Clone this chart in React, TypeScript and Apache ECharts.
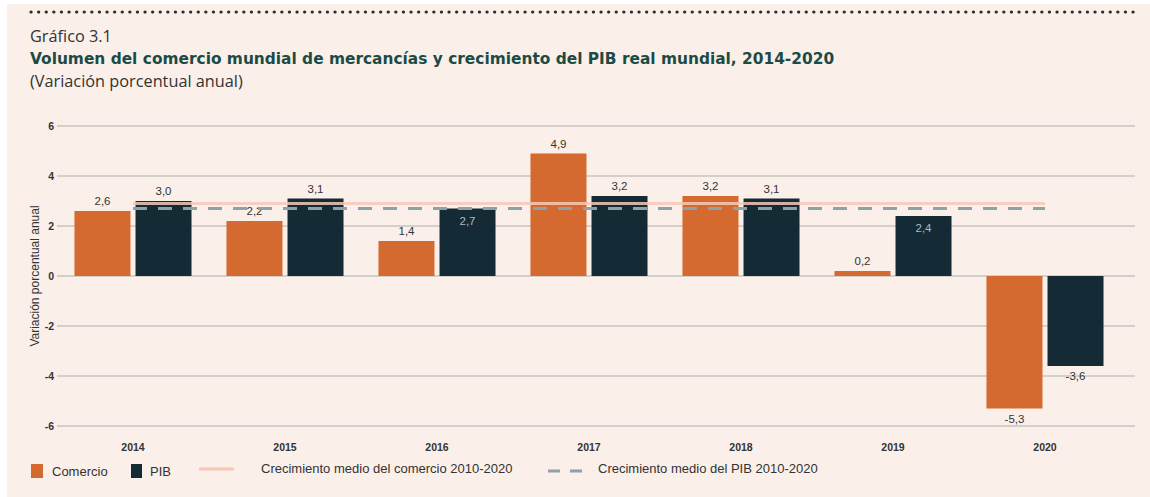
import React, { useEffect, useRef } from "react";
import * as echarts from "echarts";

const years = ["2014", "2015", "2016", "2017", "2018", "2019", "2020"];
const comercio = [2.6, 2.2, 1.4, 4.9, 3.2, 0.2, -5.3];
const pib = [3.0, 3.1, 2.7, 3.2, 3.1, 2.4, -3.6];
const mediaComercio = [2.9, 2.9, 2.9, 2.9, 2.9, 2.9, 2.9];
const mediaPib = [2.7, 2.7, 2.7, 2.7, 2.7, 2.7, 2.7];
const yTicks = { min: -6, max: 6, interval: 2 };
const pibInsideLabels = [2, 5];

const ORANGE = "#D46A30";
const DARK = "#142B36";
const PINK = "#F6C8B7";
const GREYBLUE = "#8FA2A8";
const PANEL = "#FAEFE9";
const FONT = "'Liberation Sans', Arial, sans-serif";
const WIDE = "'Open Sans', 'Liberation Sans', sans-serif";
const TITLE_FONT = "'DejaVu Sans', 'Open Sans', sans-serif";

const fmt = (v: number) => v.toFixed(1).replace(".", ",");

export default function App() {
  const ref = useRef<HTMLDivElement>(null);
  useEffect(() => {
    if (!ref.current) return;
    const chart = echarts.init(ref.current, undefined, { renderer: "svg" });
    const gridPos = { top: 126, bottom: 71, left: 57 };
    const labelBase = { fontFamily: FONT, fontSize: 11.5, color: "#333" };
    const legendText = { fontSize: 13, fontFamily: FONT, fill: "#333", verticalAlign: "middle" };
    const option: any = {
      animation: false,
      backgroundColor: "#ffffff",
      textStyle: { fontFamily: FONT },
      grid: [
        { ...gridPos, right: 15 },
        { ...gridPos, right: 29 },
      ],
      xAxis: [
        { type: "value", gridIndex: 0, show: false, min: 0, max: 1 },
        {
          type: "category",
          gridIndex: 1,
          data: years,
          axisLine: { show: false },
          axisTick: { show: false },
          axisLabel: { margin: 15, fontSize: 10.5, fontWeight: "bold", color: "#333", fontFamily: FONT },
        },
      ],
      yAxis: [
        {
          type: "value",
          gridIndex: 0,
          ...yTicks,
          name: "Variación porcentual anual",
          nameLocation: "middle",
          nameRotate: 90,
          nameGap: 16,
          nameMoveOverlap: false,
          nameTextStyle: { fontSize: 12, color: "#333", fontFamily: FONT },
          axisLine: { show: false },
          axisTick: { show: false },
          axisLabel: { margin: 3, fontSize: 10.5, fontWeight: "bold", color: "#333", fontFamily: FONT },
          splitLine: { lineStyle: { color: "#C9C4C0", width: 1.5 } },
        },
        { type: "value", gridIndex: 1, ...yTicks, show: false, splitLine: { show: false } },
      ],
      series: [
        {
          name: "Comercio",
          type: "bar",
          xAxisIndex: 1,
          yAxisIndex: 1,
          barWidth: 56,
          barGap: "9%",
          itemStyle: { color: ORANGE },
          z: 2,
          data: comercio.map((v) => ({
            value: v,
            label: {
              show: true,
              position: v < 0 ? "bottom" : "top",
              distance: 4,
              formatter: () => fmt(v),
              ...labelBase,
            },
          })),
        },
        {
          name: "PIB",
          type: "bar",
          xAxisIndex: 1,
          yAxisIndex: 1,
          barWidth: 56,
          barGap: "9%",
          itemStyle: { color: DARK },
          z: 2,
          data: pib.map((v, i) => {
            const inside = pibInsideLabels.includes(i);
            return {
              value: v,
              label: {
                show: true,
                position: inside ? "insideTop" : v < 0 ? "bottom" : "top",
                distance: inside ? 6 : 4,
                formatter: () => fmt(v),
                ...labelBase,
                color: inside ? "#A9BCC8" : "#333",
              },
            };
          }),
        },
        {
          name: "Crecimiento medio del comercio 2010-2020",
          type: "line",
          xAxisIndex: 1,
          yAxisIndex: 1,
          data: mediaComercio,
          symbol: "none",
          z: 5,
          lineStyle: { color: PINK, width: 3, opacity: 0.85 },
        },
        {
          name: "Crecimiento medio del PIB 2010-2020",
          type: "line",
          xAxisIndex: 1,
          yAxisIndex: 1,
          data: mediaPib,
          symbol: "none",
          z: 6,
          lineStyle: { color: GREYBLUE, width: 3, type: [14, 11] },
        },
      ],
      graphic: [
        { type: "rect", z: -100, silent: true, shape: { x: 7, y: 4, width: 1143, height: 493 }, style: { fill: PANEL } },
        {
          type: "line",
          shape: { x1: 31, y1: 12, x2: 1140, y2: 12 },
          style: { stroke: "#2a2a2a", lineWidth: 3.2, lineDash: [0.1, 7.5], lineCap: "round" },
        },
        { type: "text", x: 30, y: 36, style: { text: "Gráfico 3.1", fontSize: 16.3, fontFamily: WIDE, fill: "#333", verticalAlign: "middle" } },
        {
          type: "text",
          x: 30,
          y: 59,
          style: {
            text: "Volumen del comercio mundial de mercancías y crecimiento del PIB real mundial, 2014-2020",
            fontSize: 15.4,
            fontWeight: "bold",
            fontFamily: TITLE_FONT,
            fill: "#1C4A45",
            verticalAlign: "middle",
          },
        },
        { type: "text", x: 30, y: 81, style: { text: "(Variación porcentual anual)", fontSize: 16.3, fontFamily: WIDE, fill: "#333", verticalAlign: "middle" } },
        // legend
        { type: "rect", shape: { x: 31, y: 464, width: 12, height: 14 }, style: { fill: ORANGE } },
        { type: "text", x: 52, y: 471, style: { text: "Comercio", ...legendText } },
        { type: "rect", shape: { x: 131, y: 464, width: 11, height: 14 }, style: { fill: DARK } },
        { type: "text", x: 150, y: 471, style: { text: "PIB", ...legendText } },
        { type: "line", shape: { x1: 199, y1: 469, x2: 234, y2: 469 }, style: { stroke: PINK, lineWidth: 3 } },
        { type: "text", x: 261, y: 468, style: { text: "Crecimiento medio del comercio 2010-2020", ...legendText } },
        { type: "line", shape: { x1: 548, y1: 471, x2: 583, y2: 471 }, style: { stroke: GREYBLUE, lineWidth: 3, lineDash: [12, 10] } },
        { type: "text", x: 598, y: 468, style: { text: "Crecimiento medio del PIB 2010-2020", ...legendText } },
      ],
    };
    chart.setOption(option);
    return () => chart.dispose();
  }, []);
  return (
    <div
      ref={ref}
      style={{ position: "absolute", left: 0, top: 0, width: 1150, height: 497, background: "#fff" }}
    />
  );
}
